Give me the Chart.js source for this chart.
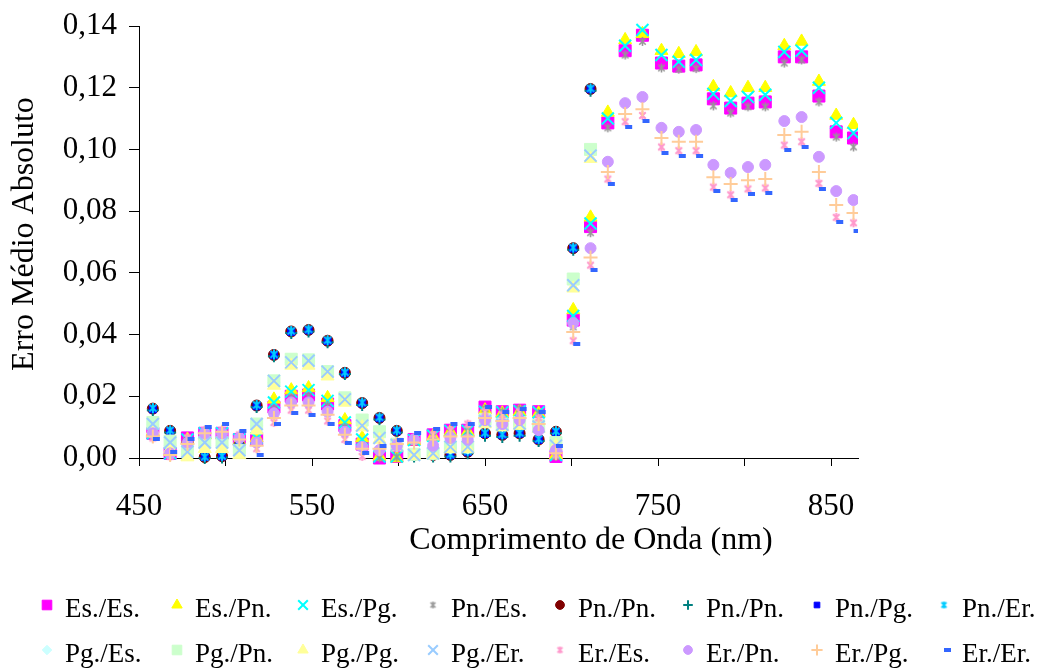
<!DOCTYPE html>
<html>
<head>
<meta charset="utf-8">
<script src="https://cdn.jsdelivr.net/npm/chart.js@4/dist/chart.umd.min.js"></script>
<style>
  html, body { margin: 0; padding: 0; background: #fff; }
  #wrap { width: 1041px; height: 669px; position: relative; }
</style>
</head>
<body>
<div id="wrap"><canvas id="erro"></canvas></div>
<script>
// wavelengths (nm) of each band, read from the column positions
var wavelength = [458, 468, 478, 488, 498, 508, 518, 528, 538, 548,
                  559, 569, 579, 589, 599, 609, 620, 630, 640, 650,
                  660, 670, 681, 691, 701, 711, 721, 731, 741, 752,
                  762, 772, 782, 792, 802, 812, 823, 833, 843, 853,
                  863];

var labels = ["Es./Es.", "Es./Pn.", "Es./Pg.", "Pn./Es.", "Pn./Pn.", "Pn./Pn.", "Pn./Pg.", "Pn./Er.",
              "Pg./Es.", "Pg./Pn.", "Pg./Pg.", "Pg./Er.", "Er./Es.", "Er./Pn.", "Er./Pg.", "Er./Er."];

var esEs = [0.0080, 0.0015, 0.0065, 0.0080, 0.0080, 0.0060, 0.0060, 0.0165, 0.0200, 0.0204,
            0.0175, 0.0105, 0.0045, 0.0000, 0.0005, 0.0060, 0.0075, 0.0090, 0.0090, 0.0165,
            0.0150, 0.0155, 0.0150, 0.0005, 0.0447, 0.0750, 0.1086, 0.1320, 0.1370, 0.1280,
            0.1270, 0.1274, 0.1164, 0.1134, 0.1150, 0.1154, 0.1300, 0.1300, 0.1173, 0.1057,
            0.1037];
var esPn = [0.0085, 0.0020, 0.0060, 0.0075, 0.0075, 0.0055, 0.0065, 0.0190, 0.0220, 0.0227,
            0.0195, 0.0123, 0.0065, 0.0005, 0.0000, 0.0055, 0.0070, 0.0085, 0.0085, 0.0155,
            0.0145, 0.0150, 0.0145, 0.0010, 0.0480, 0.0780, 0.1120, 0.1355, 0.1375, 0.1320,
            0.1310, 0.1316, 0.1203, 0.1183, 0.1200, 0.1200, 0.1336, 0.1350, 0.1220, 0.1110,
            0.1080];
var esPg = [0.0080, 0.0015, 0.0060, 0.0080, 0.0080, 0.0060, 0.0065, 0.0180, 0.0215, 0.0220,
            0.0185, 0.0115, 0.0060, 0.0005, 0.0005, 0.0058, 0.0072, 0.0088, 0.0088, 0.0150,
            0.0148, 0.0152, 0.0148, 0.0010, 0.0460, 0.0760, 0.1100, 0.1336, 0.1387, 0.1306,
            0.1284, 0.1290, 0.1180, 0.1157, 0.1170, 0.1177, 0.1316, 0.1320, 0.1200, 0.1086,
            0.1053];
var pnEs = [0.0075, 0.0010, 0.0055, 0.0075, 0.0075, 0.0055, 0.0055, 0.0160, 0.0195, 0.0200,
            0.0170, 0.0100, 0.0040, 0.0000, 0.0003, 0.0055, 0.0070, 0.0085, 0.0085, 0.0160,
            0.0150, 0.0160, 0.0145, 0.0005, 0.0425, 0.0730, 0.1070, 0.1306, 0.1350, 0.1264,
            0.1260, 0.1262, 0.1141, 0.1118, 0.1138, 0.1138, 0.1280, 0.1290, 0.1154, 0.1040,
            0.1008];
// Pn./* and Pg./* run off the top of the axis after 710 nm
var pnPn = [0.0160, 0.0088, 0.0050, 0.0003, 0.0006, 0.0040, 0.0170, 0.0334, 0.0410, 0.0415,
            0.0380, 0.0276, 0.0178, 0.0130, 0.0088, 0.0010, 0.0010, 0.0010, 0.0020, 0.0080,
            0.0075, 0.0080, 0.0060, 0.0085, 0.0680, 0.1196, null, null, null, null,
            null, null, null, null, null, null, null, null, null, null,
            null];
var pnPn2 = [0.0155, 0.0083, 0.0045, 0.0000, 0.0002, 0.0035, 0.0165, 0.0330, 0.0405, 0.0410,
             0.0375, 0.0272, 0.0172, 0.0125, 0.0083, 0.0005, 0.0005, 0.0005, 0.0015, 0.0072,
             0.0068, 0.0072, 0.0055, 0.0080, 0.0675, 0.1190, null, null, null, null,
             null, null, null, null, null, null, null, null, null, null,
             null];
var pnPg = [0.0158, 0.0087, 0.0048, 0.0003, 0.0005, 0.0038, 0.0168, 0.0333, 0.0409, 0.0414,
            0.0379, 0.0275, 0.0177, 0.0129, 0.0087, 0.0009, 0.0009, 0.0009, 0.0019, 0.0078,
            0.0074, 0.0079, 0.0059, 0.0084, 0.0679, 0.1195, null, null, null, null,
            null, null, null, null, null, null, null, null, null, null,
            null];
var pnEr = [0.0162, 0.0090, 0.0052, 0.0004, 0.0007, 0.0042, 0.0172, 0.0336, 0.0412, 0.0417,
            0.0382, 0.0278, 0.0180, 0.0132, 0.0090, 0.0012, 0.0012, 0.0012, 0.0022, 0.0082,
            0.0077, 0.0082, 0.0062, 0.0087, 0.0682, 0.1198, null, null, null, null,
            null, null, null, null, null, null, null, null, null, null,
            null];
var pgEs = [0.0110, 0.0040, 0.0010, 0.0040, 0.0040, 0.0020, 0.0105, 0.0245, 0.0310, 0.0312,
            0.0275, 0.0190, 0.0115, 0.0075, 0.0040, 0.0010, 0.0012, 0.0032, 0.0032, 0.0115,
            0.0105, 0.0110, 0.0100, 0.0045, 0.0570, 0.0990, null, null, null, null,
            null, null, null, null, null, null, null, null, null, null,
            null];
var pgPn = [0.0115, 0.0055, 0.0020, 0.0050, 0.0050, 0.0025, 0.0110, 0.0250, 0.0320, 0.0318,
            0.0280, 0.0195, 0.0123, 0.0085, 0.0045, 0.0012, 0.0015, 0.0036, 0.0036, 0.0125,
            0.0110, 0.0115, 0.0105, 0.0050, 0.0580, 0.1000, null, null, null, null,
            null, null, null, null, null, null, null, null, null, null,
            null];
var pgPg = [0.0090, 0.0030, 0.0003, 0.0030, 0.0030, 0.0010, 0.0090, 0.0235, 0.0300, 0.0300,
            0.0265, 0.0180, 0.0100, 0.0060, 0.0035, 0.0008, 0.0010, 0.0030, 0.0030, 0.0110,
            0.0100, 0.0105, 0.0095, 0.0040, 0.0550, 0.0970, null, null, null, null,
            null, null, null, null, null, null, null, null, null, null,
            null];
var pgEr = [0.0110, 0.0050, 0.0020, 0.0050, 0.0050, 0.0025, 0.0110, 0.0250, 0.0310, 0.0315,
            0.0280, 0.0190, 0.0105, 0.0065, 0.0042, 0.0010, 0.0015, 0.0036, 0.0036, 0.0120,
            0.0108, 0.0112, 0.0102, 0.0040, 0.0560, 0.0980, null, null, null, null,
            null, null, null, null, null, null, null, null, null, null,
            null];
var erEs = [0.0065, 0.0005, 0.0065, 0.0090, 0.0090, 0.0075, 0.0030, 0.0115, 0.0155, 0.0155,
            0.0120, 0.0060, 0.0005, 0.0020, 0.0050, 0.0065, 0.0075, 0.0090, 0.0110, 0.0150,
            0.0140, 0.0150, 0.0130, 0.0010, 0.0380, 0.0625, 0.0904, 0.1090, 0.1110, 0.1008,
            0.0996, 0.0996, 0.0878, 0.0853, 0.0872, 0.0875, 0.1014, 0.1025, 0.0890, 0.0780,
            0.0762];
var erPn = [0.0080, 0.0015, 0.0050, 0.0080, 0.0080, 0.0065, 0.0050, 0.0145, 0.0180, 0.0180,
            0.0150, 0.0085, 0.0036, 0.0026, 0.0040, 0.0060, 0.0040, 0.0065, 0.0060, 0.0123,
            0.0110, 0.0123, 0.0090, 0.0026, 0.0437, 0.0680, 0.0960, 0.1150, 0.1170, 0.1070,
            0.1057, 0.1063, 0.0950, 0.0924, 0.0943, 0.0950, 0.1092, 0.1105, 0.0976, 0.0865,
            0.0836];
var erPg = [0.0070, 0.0010, 0.0045, 0.0080, 0.0085, 0.0060, 0.0040, 0.0130, 0.0170, 0.0170,
            0.0140, 0.0075, 0.0030, 0.0030, 0.0045, 0.0050, 0.0060, 0.0070, 0.0070, 0.0130,
            0.0120, 0.0130, 0.0110, 0.0015, 0.0408, 0.0650, 0.0927, 0.1115, 0.1130, 0.1037,
            0.1025, 0.1025, 0.0910, 0.0888, 0.0900, 0.0904, 0.1047, 0.1057, 0.0927, 0.0820,
            0.0794];
var erEr = [0.0060, 0.0020, 0.0060, 0.0100, 0.0110, 0.0088, 0.0010, 0.0110, 0.0146, 0.0140,
            0.0110, 0.0050, 0.0016, 0.0040, 0.0058, 0.0080, 0.0094, 0.0110, 0.0110, 0.0165,
            0.0150, 0.0160, 0.0150, 0.0040, 0.0370, 0.0610, 0.0888, 0.1073, 0.1092, 0.0989,
            0.0980, 0.0980, 0.0865, 0.0836, 0.0856, 0.0859, 0.0998, 0.1008, 0.0872, 0.0765,
            0.0736];

var xTicks = [450, 500, 550, 600, 650, 700, 750, 800, 850];
var yTicks = [0, 0.02, 0.04, 0.06, 0.08, 0.10, 0.12, 0.14];

Chart.defaults.font.family = "'Liberation Serif', 'Times New Roman', serif";
Chart.defaults.color = "#000";

// excel style markers that chart.js does not have
function asterisk(color, size, lw) {
    var c = document.createElement("canvas");
    c.width = size; c.height = size;
    var g = c.getContext("2d");
    var m = size / 2, r = size / 2 - 1, d = r * 0.72;
    g.strokeStyle = color; g.lineWidth = lw;
    g.beginPath();
    g.moveTo(m, m - r); g.lineTo(m, m + r);
    g.moveTo(m - d, m - d); g.lineTo(m + d, m + d);
    g.moveTo(m - d, m + d); g.lineTo(m + d, m - d);
    g.stroke();
    return c;
}
function dash(color) {
    var c = document.createElement("canvas");
    c.width = 16; c.height = 4;
    var g = c.getContext("2d");
    g.fillStyle = color;
    g.fillRect(8, 0, 7, 4);
    return c;
}

var series = [
    { data: esEs,  color: "#FF00FF", style: "rect",      r: 8.5, bw: 1 },
    { data: esPn,  color: "#FFFF00", style: "triangle",  r: 7.5, bw: 1 },
    { data: esPg,  color: "#00FFFF", style: "crossRot",  r: 8.5, bw: 2 },
    { data: pnEs,  color: "#969696", style: asterisk("#969696", 11, 1.6), legend: asterisk("#969696", 9, 1.5), r: 5, bw: 1 },
    { data: pnPn,  color: "#800000", style: "circle",    r: 5.5, bw: 1 },
    { data: pnPn2, color: "#008080", style: "cross",     r: 6,   bw: 2 },
    { data: pnPg,  color: "#0000FF", style: "rect",      r: 5,   bw: 1 },
    { data: pnEr,  color: "#00CCFF", style: asterisk("#00CCFF", 12, 2), legend: asterisk("#00CCFF", 9, 1.8), r: 6, bw: 1 },
    { data: pgEs,  color: "#CCFFFF", style: "rectRot",   r: 6,   bw: 1 },
    { data: pgPn,  color: "#CCFFCC", style: "rect",      r: 8.5, bw: 1 },
    { data: pgPg,  color: "#FFFF99", style: "triangle",  r: 7.5, bw: 1 },
    { data: pgEr,  color: "#99CCFF", style: "crossRot",  r: 8.5, bw: 2 },
    { data: erEs,  color: "#FF99CC", style: asterisk("#FF99CC", 11, 2), legend: asterisk("#FF99CC", 9, 1.8), r: 5, bw: 1 },
    { data: erPn,  color: "#CC99FF", style: "circle",    r: 5.5, bw: 1 },
    { data: erPg,  color: "#FFCC99", style: "cross",     r: 7,   bw: 2 },
    { data: erEr,  color: "#3366FF", style: dash("#3366FF"), r: 4, bw: 1 }
];

var datasets = series.map(function (s, i) {
    return {
        label: labels[i],
        data: s.data.map(function (v, k) { return { x: wavelength[k], y: v }; }),
        pointStyle: s.style,
        legendStyle: s.legend || s.style,
        pointRadius: s.r,
        pointHoverRadius: s.r,
        pointBorderWidth: s.bw,
        borderColor: s.color,
        backgroundColor: s.color,
        showLine: false,
        order: series.length - i,   // later series on top, like excel
        clip: { left: 12, top: 12, right: 0, bottom: 12 }
    };
});

// 8 x 2 grid legend under the plot, plus the axis titles where excel puts them
var legendCols = [47, 177, 303, 433, 560, 688, 817, 944];
var legendRows = [617, 662];
var gridLegend = {
    id: "gridLegend",
    afterDraw: function (chart) {
        var ctx = chart.ctx;
        ctx.save();
        chart.data.datasets.forEach(function (d, i) {
            var x = legendCols[i % 8], y = legendRows[Math.floor(i / 8)];
            ctx.fillStyle = d.backgroundColor;
            ctx.strokeStyle = d.borderColor;
            ctx.lineWidth = d.pointBorderWidth;
            Chart.helpers.drawPoint(ctx, {
                pointStyle: d.legendStyle, radius: d.pointRadius * 0.8,
                borderWidth: d.pointBorderWidth, rotation: 0
            }, x, y - 12);
            ctx.fillStyle = "#000";
            ctx.font = "27px 'Liberation Serif'";
            ctx.textBaseline = "alphabetic";
            ctx.textAlign = "left";
            ctx.fillText(d.label, x + 18, y);
        });

        var sx = chart.options.scales.x.title, sy = chart.options.scales.y.title;
        ctx.fillStyle = "#000";
        ctx.font = "32px 'Liberation Serif'";
        ctx.textAlign = "center";
        ctx.textBaseline = "middle";
        ctx.fillText(sx.text, 591, 541);
        ctx.translate(25, 234);
        ctx.rotate(-Math.PI / 2);
        ctx.fillText(sy.text, 0, 0);
        ctx.restore();
    }
};

new Chart(document.getElementById("erro"), {
    type: "scatter",
    data: { datasets: datasets },
    plugins: [gridLegend],
    options: {
        responsive: true,
        maintainAspectRatio: false,
        animation: false,
        devicePixelRatio: 1,
        layout: { padding: { left: 0, top: 26, right: 183, bottom: 110 } },
        plugins: { legend: { display: false }, tooltip: { enabled: false } },
        scales: {
            x: {
                type: "linear",
                min: 450,
                max: 865.6,
                afterBuildTicks: function (axis) {
                    axis.ticks = xTicks.map(function (v) { return { value: v }; });
                },
                afterFit: function (axis) { axis.height = 101; },
                ticks: {
                    autoSkip: false,
                    maxRotation: 0,
                    padding: 22,
                    font: { size: 31 },
                    callback: function (v) { return v % 100 === 50 ? String(v) : ""; }
                },
                grid: { drawOnChartArea: false, drawTicks: true, tickLength: 8, color: "#000" },
                border: { display: true, color: "#000", width: 1 },
                // drawn by the plugin, off-centre like the original
                title: { display: false, text: "Comprimento de Onda (nm)" }
            },
            y: {
                min: 0,
                max: 0.14,
                afterBuildTicks: function (axis) {
                    axis.ticks = yTicks.map(function (v) { return { value: v }; });
                },
                afterFit: function (axis) {
                    axis.width = 139;
                    axis.paddingTop = 0;
                    axis.paddingBottom = 0;
                },
                ticks: {
                    padding: 12,
                    font: { size: 31 },
                    callback: function (v) { return v.toFixed(2).replace(".", ","); }
                },
                grid: { drawOnChartArea: false, drawTicks: true, tickLength: 10, color: "#000" },
                border: { display: true, color: "#000", width: 1 },
                title: { display: false, text: "Erro Médio Absoluto" }
            }
        }
    }
});
</script>
</body>
</html>
